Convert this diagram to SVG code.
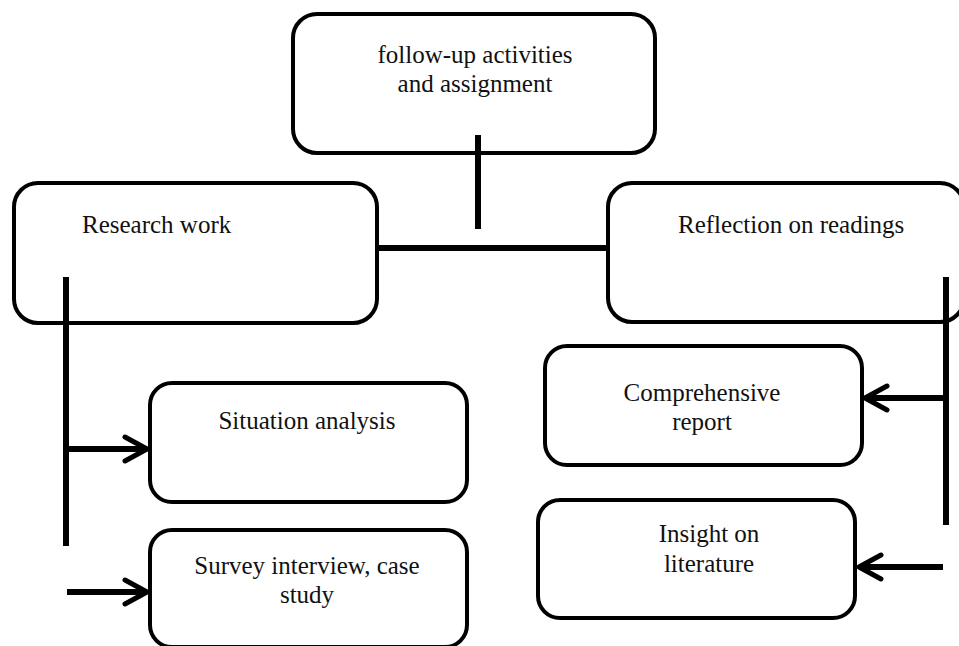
<svg xmlns="http://www.w3.org/2000/svg" width="959" height="646" viewBox="0 0 959 646">
<style>
.box{fill:#fff;stroke:#000;stroke-width:4}
.t{font-family:"Liberation Serif","Times New Roman",serif;font-size:25px;fill:#111}
.c{text-anchor:middle}
.ln{stroke:#000;stroke-width:6;fill:none}
.ah{stroke:#000;stroke-width:5;fill:none;stroke-linecap:round;stroke-linejoin:round}
</style>
<rect width="959" height="646" fill="#fff"/>
<g id="node-followup">
<rect class="box" x="293" y="14" width="362" height="139" rx="24"/>
<text class="t c" x="475" y="63">follow-up activities</text>
<text class="t c" x="475" y="92">and assignment</text>
</g>
<g id="node-research">
<rect class="box" x="14" y="183" width="363" height="140" rx="24"/>
<text class="t" x="82" y="233">Research work</text>
</g>
<g id="node-reflection">
<rect class="box" x="608" y="183" width="356" height="139" rx="24"/>
<text class="t" x="678" y="233">Reflection on readings</text>
</g>
<g id="node-situation">
<rect class="box" x="150" y="383" width="317" height="119" rx="22"/>
<text class="t c" x="307" y="429">Situation analysis</text>
</g>
<g id="node-survey">
<rect class="box" x="150" y="530" width="317" height="117" rx="22"/>
<text class="t c" x="307" y="574">Survey interview, case</text>
<text class="t c" x="307" y="603">study</text>
</g>
<g id="node-comprehensive">
<rect class="box" x="545" y="346" width="317" height="119" rx="22"/>
<text class="t c" x="702" y="401">Comprehensive</text>
<text class="t c" x="702" y="430">report</text>
</g>
<g id="node-insight">
<rect class="box" x="538" y="500" width="317" height="118" rx="22"/>
<text class="t c" x="709" y="542">Insight on</text>
<text class="t c" x="709" y="572">literature</text>
</g>
<g id="connectors">
<line class="ln" x1="478" y1="135" x2="478" y2="229"/>
<line class="ln" x1="379" y1="248" x2="606" y2="248"/>
<line class="ln" x1="66" y1="277" x2="66" y2="546"/>
<line class="ln" x1="66" y1="449" x2="146" y2="449"/>
<polyline class="ah" points="125,437 147,449 125,461"/>
<line class="ln" x1="67" y1="592" x2="146" y2="592"/>
<polyline class="ah" points="125,580 147,592 125,604"/>
<line class="ln" x1="946" y1="277" x2="946" y2="525"/>
<line class="ln" x1="946" y1="398" x2="866" y2="398"/>
<polyline class="ah" points="887,386 865,398 887,410"/>
<line class="ln" x1="943" y1="567" x2="860" y2="567"/>
<polyline class="ah" points="881,555 859,567 881,579"/>
</g>
</svg>
